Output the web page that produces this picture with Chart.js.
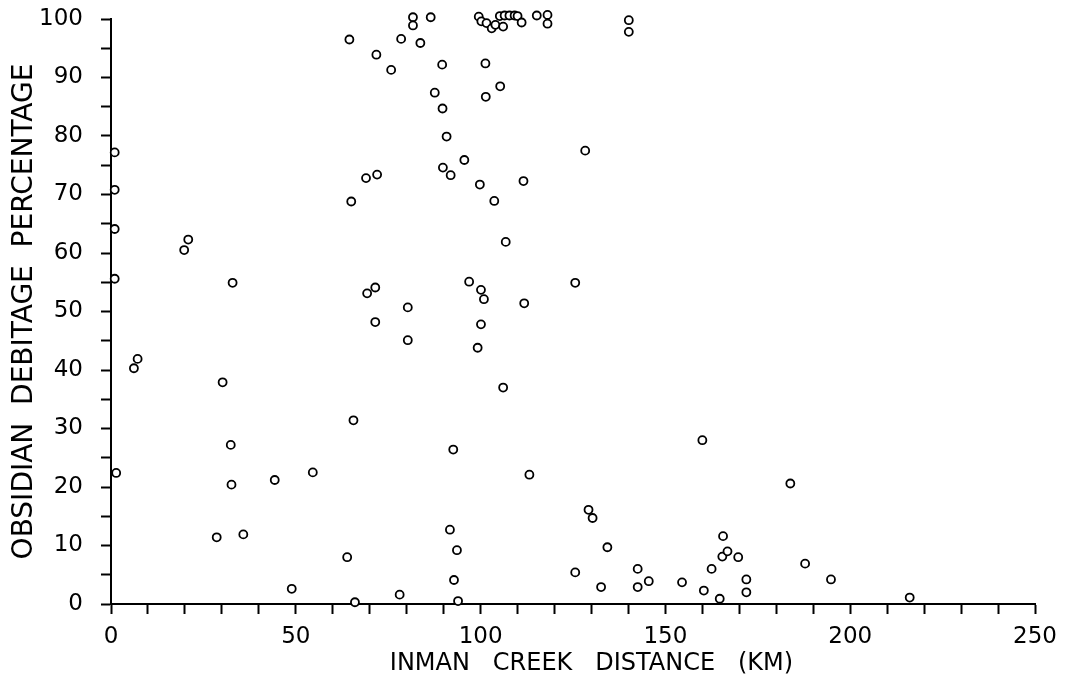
<!DOCTYPE html>
<html>
<head>
<meta charset="utf-8">
<script src="https://cdn.jsdelivr.net/npm/chart.js@4/dist/chart.umd.min.js"></script>
<style>
  body { margin: 0; background: #fff; }
  #wrap { width: 1067px; height: 681px; }
</style>
</head>
<body>
<div id="wrap"><canvas id="scatter" width="1067" height="681"></canvas></div>
<script>
// Inman Creek distance (km) vs obsidian debitage percentage
const distanceKm = [
  1, 1, 1, 1, 1.4, 6.2, 7.2, 19.8, 20.9, 28.6,
  30.2, 32.4, 32.6, 32.9, 35.8, 44.3, 48.9, 54.6, 63.9, 64.5,
  65.0, 65.6, 66.0, 69.0, 69.3, 71.5, 71.5, 71.8, 72.0, 75.8,
  78.1, 78.5, 80.3, 80.3, 81.7, 81.7, 83.7, 86.5, 87.6, 89.6,
  89.7, 89.8, 90.8, 91.7, 91.9, 92.6, 92.8, 93.6, 93.9, 95.6,
  96.9, 99.2, 99.8, 100.1, 100.1, 100.9, 101.3, 101.4, 103.7, 105.3,
  106.1, 106.8, 111.6, 111.8, 113.2, 125.6, 125.6, 128.3, 129.2, 130.3,
  132.6, 134.3, 140.1, 140.1, 142.5, 142.5, 145.5, 154.5, 160.0, 160.4,
  162.5, 164.7, 165.4, 165.6, 166.8, 169.7, 171.9, 171.9, 183.8, 187.8,
  194.8, 216.1,
  // cluster near 100 %
  99.5, 100.2, 101.6, 103.0, 104.0, 105.2, 106.1, 106.5, 107.8, 109.2,
  110.0, 111.1, 115.2, 118.1, 118.1
];
const debitagePct = [
  77.2, 70.8, 64.1, 55.6, 22.4, 40.3, 41.9, 60.5, 62.3, 11.4,
  37.9, 27.2, 20.4, 54.9, 11.9, 21.2, 2.6, 22.5, 8.0, 96.5,
  68.8, 31.4, 0.3, 72.8, 53.1, 54.1, 48.2, 93.9, 73.4, 91.3,
  1.6, 96.6, 50.7, 45.1, 100.3, 98.9, 95.9, 100.3, 87.4, 92.2,
  84.7, 74.6, 79.9, 12.7, 73.3, 26.4, 4.1, 9.2, 0.5, 75.9,
  55.1, 43.8, 71.7, 53.7, 47.8, 52.1, 92.4, 86.7, 68.9, 88.5,
  37.0, 61.9, 72.3, 51.4, 22.1, 54.9, 5.4, 77.5, 16.1, 14.7,
  2.9, 9.7, 99.8, 97.8, 6.0, 2.9, 3.9, 3.7, 28.0, 2.3,
  6.0, 0.9, 8.1, 11.6, 9.0, 8.0, 4.2, 2.0, 20.6, 6.9,
  4.2, 1.1,
  100.4, 99.6, 99.3, 98.4, 99.0, 100.5, 98.7, 100.6, 100.6, 100.6,
  100.5, 99.4, 100.6, 100.7, 99.2
];

const xTitle = 'INMAN   CREEK   DISTANCE   (KM)';
const yTitle = 'OBSIDIAN  DEBITAGE  PERCENTAGE';

const points = distanceKm.map((x, i) => ({ x: x, y: debitagePct[i] }));

const tickFont = { family: 'DejaVu Sans', size: 23 };

// x title sits a bit right of the plot centre in the original, so draw it by hand
const xTitlePlugin = {
  id: 'xTitle',
  afterDraw(chart) {
    const { ctx, scales } = chart;
    const x = scales.x.getPixelForValue(130);
    ctx.save();
    ctx.font = '24px "DejaVu Sans"';
    ctx.fillStyle = '#000';
    ctx.textAlign = 'center';
    ctx.textBaseline = 'alphabetic';
    ctx.fillText(xTitle, x, scales.x.bottom - 11);
    ctx.restore();
  }
};

new Chart(document.getElementById('scatter'), {
  type: 'scatter',
  data: {
    datasets: [{
      data: points,
      pointStyle: 'circle',
      pointRadius: 4,
      borderColor: '#000',
      backgroundColor: '#fff',
      borderWidth: 1.8,
      clip: false
    }]
  },
  plugins: [xTitlePlugin],
  options: {
    responsive: false,
    animation: false,
    events: [],
    layout: { padding: { top: 19, right: 32, left: 0, bottom: 0 } },
    plugins: {
      legend: { display: false },
      tooltip: { enabled: false }
    },
    scales: {
      x: {
        type: 'linear',
        min: 0,
        max: 250,
        // fixed box, no extra room for the end labels
        afterFit: (s) => { s.height = 77; s.paddingLeft = 0; s.paddingRight = 0; },
        border: { display: true, color: '#000', width: 2 },
        grid: { drawOnChartArea: false, drawTicks: true, tickLength: 10, tickColor: '#000', tickWidth: 2 },
        ticks: {
          stepSize: 10,
          autoSkip: false,
          maxRotation: 0,
          padding: 9,
          color: '#000',
          font: tickFont,
          callback: (v) => (v % 50 === 0 ? String(v) : '')
        }
      },
      y: {
        type: 'linear',
        min: 0,
        max: 100,
        afterFit: (s) => { s.width = 111; s.paddingTop = 0; s.paddingBottom = 0; },
        border: { display: true, color: '#000', width: 2 },
        grid: { drawOnChartArea: false, drawTicks: true, tickLength: 10, tickColor: '#000', tickWidth: 2 },
        ticks: {
          stepSize: 5,
          autoSkip: false,
          padding: 18,
          color: '#000',
          font: tickFont,
          callback: (v) => (v % 10 === 0 ? String(v) : '')
        },
        title: {
          display: true,
          text: yTitle,
          color: '#000',
          font: { family: 'DejaVu Sans', size: 28 },
          padding: { top: 8, bottom: 0 }
        }
      }
    }
  }
});
</script>
</body>
</html>
